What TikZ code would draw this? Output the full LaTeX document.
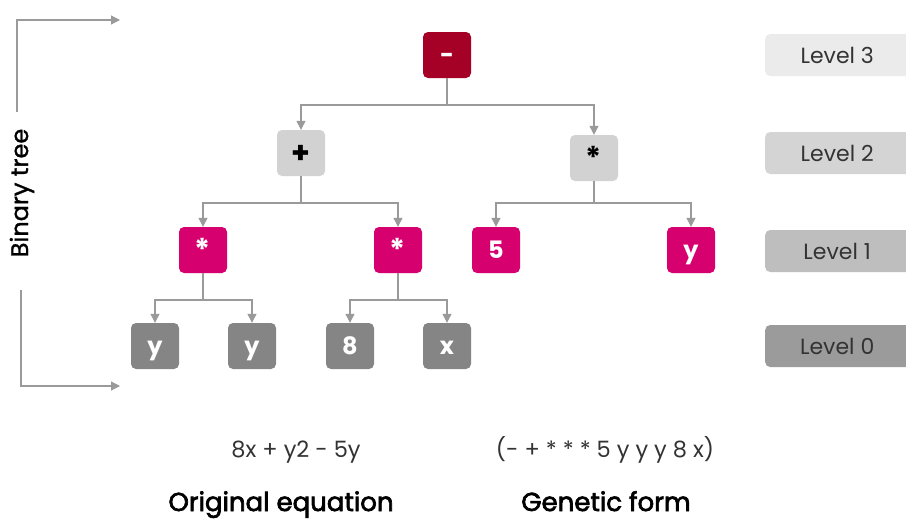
\documentclass[tikz,border=0pt]{standalone}
\usepackage{fontspec}
\setmainfont{Poppins}
\newfontfamily\semib{Poppins}[FakeBold=2.5]
\newfontfamily\medf{Poppins}[FakeBold=1.2]
\usetikzlibrary{arrows.meta,calc}
\definecolor{rootred}{HTML}{A50026}
\definecolor{magent}{HTML}{D6006F}
\definecolor{lgray}{HTML}{D2D2D2}
\definecolor{dgray}{HTML}{858585}
\definecolor{linegray}{HTML}{9A9A9A}
\definecolor{txt}{HTML}{333333}
\definecolor{lv3}{HTML}{EBEBEB}
\definecolor{lv2}{HTML}{D4D4D4}
\definecolor{lv1}{HTML}{BEBEBE}
\definecolor{lv0}{HTML}{9B9B9B}
\tikzset{
  box/.style={rectangle,rounded corners=5pt,minimum width=48pt,minimum height=46pt,inner sep=0pt,text height=16pt,text depth=0pt,font=\fontsize{24}{26}\selectfont\bfseries},
  opbig/.style={font=\fontsize{30}{32}\selectfont\bfseries,text height=20pt},
  redbox/.style={box,fill=rootred,text=white},
  magbox/.style={box,fill=magent,text=white},
  lbox/.style={box,fill=lgray,text=black},
  gbox/.style={box,fill=dgray,text=white},
  conn/.style={draw=linegray,line width=1.2pt,-{Triangle[width=9pt,length=9pt]},color=linegray},
  plain/.style={draw=linegray,line width=1.2pt},
  lvl/.style={rectangle,rounded corners=5pt,minimum width=170pt,minimum height=42pt,inner sep=0pt,text=txt,font=\fontsize{22}{24}\selectfont},
  lbl/.style={text=txt,font=\fontsize{22.5}{26}\selectfont,anchor=base,inner sep=0pt},
  captxt/.style={text=black,font=\fontsize{26}{30}\selectfont\semib,anchor=base,inner sep=0pt}
}
\begin{document}
\begin{tikzpicture}[x=1pt,y=-1pt]
\useasboundingbox[fill=white] (0,0) rectangle (906,520);
% tree nodes
\node[redbox] (root) at (447,55) {-};
\node[lbox,opbig] (plus) at (301,153) {+};
\node[lbox,opbig] (mulr) at (594,158) {*};
\node[magbox,opbig] (mula) at (203,250) {*};
\node[magbox,opbig] (mulb) at (398,250) {*};
\node[magbox] (five) at (496,250) {5};
\node[magbox] (yr) at (691,250) {y};
\node[gbox] (y1) at (155,346) {y};
\node[gbox] (y2) at (252,346) {y};
\node[gbox] (eight) at (350,346) {8};
\node[gbox] (x1) at (447,346) {x};
% junctions
\coordinate (j0) at (447,105);
\coordinate (j1) at (301,203);
\coordinate (j2) at (594,203);
\coordinate (j3) at (203,300);
\coordinate (j4) at (398,300);
\draw[plain] (root.south) -- (j0);
\draw[conn] (j0) -| (plus.north);
\draw[conn] (j0) -| (mulr.north);
\draw[plain] (plus.south) -- (j1);
\draw[conn] (j1) -| (mula.north);
\draw[conn] (j1) -| (mulb.north);
\draw[plain] (mulr.south) -- (j2);
\draw[conn] (j2) -| (five.north);
\draw[conn] (j2) -| (yr.north);
\draw[plain] (mula.south) -- (j3);
\draw[conn] (j3) -| (y1.north);
\draw[conn] (j3) -| (y2.north);
\draw[plain] (mulb.south) -- (j4);
\draw[conn] (j4) -| (eight.north);
\draw[conn] (j4) -| (x1.north);
% level boxes
\node[lvl,fill=lv3,anchor=west] (l3) at (765,55) {\hspace*{-26pt}Level 3};
\node[lvl,fill=lv2,anchor=west] (l2) at (765,153) {\hspace*{-26pt}Level 2};
\node[lvl,fill=lv1,anchor=west] (l1) at (765,251) {\hspace*{-26pt}Level 1};
\node[lvl,fill=lv0,anchor=west] (l0) at (765,346) {\hspace*{-26pt}Level 0};
% binary tree bracket
\node[rotate=90,text=black,font=\fontsize{24}{26}\selectfont\medf] (bt) at (22,193) {Binary tree};
\coordinate (t0) at (17,112);
\coordinate (tl) at (17,20);
\coordinate (tr) at (120,20);
\coordinate (b0) at (21,290);
\coordinate (bl) at (21,386);
\coordinate (br) at (120,386);
\draw[conn] (t0) -- (tl) -- (tr);
\draw[conn] (b0) -- (bl) -- (br);
% bottom texts
\node[lbl] (eq) at (296,457) {8x + y2 - 5y};
\node[lbl] (gf) at (605,457) {(- + * * * 5 y y y 8 x)};
\node[captxt] (oe) at (281,511) {Original equation};
\node[captxt] (gt) at (606,511) {Genetic form};
\end{tikzpicture}
\end{document}
